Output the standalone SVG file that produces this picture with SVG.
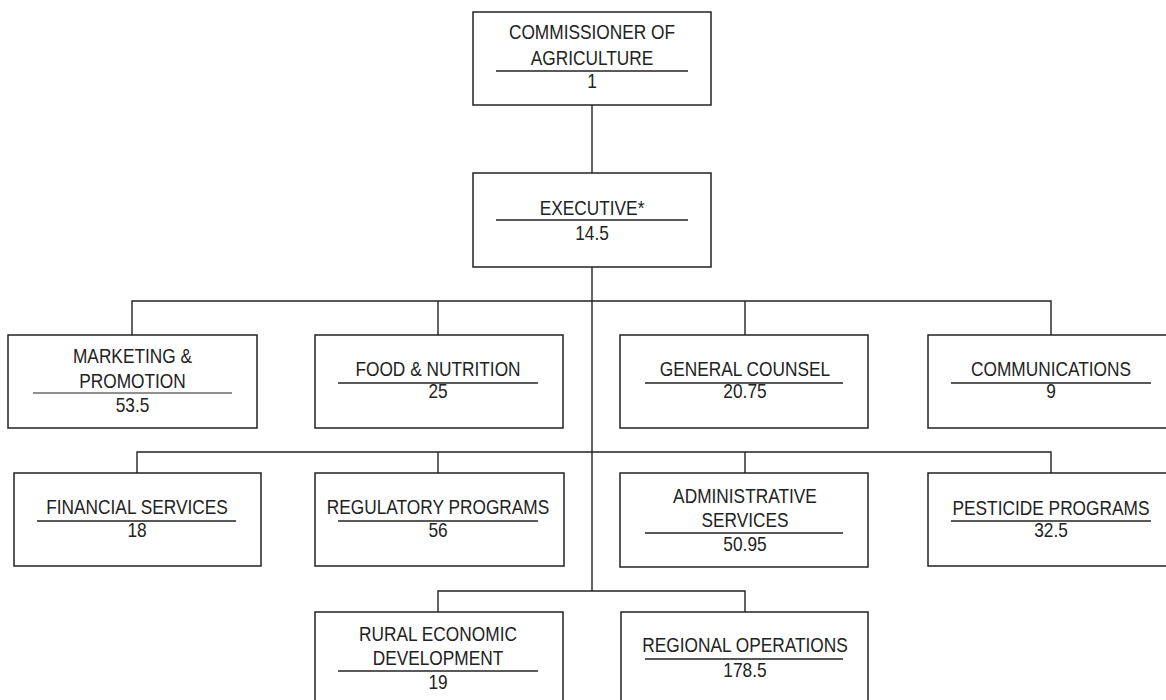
<svg xmlns="http://www.w3.org/2000/svg" width="1166" height="700" viewBox="0 0 1166 700">
<style>
.box{fill:#fff;stroke:#222;stroke-width:1.5}
.ul{stroke:#222;stroke-width:1.5}
.con{fill:none;stroke:#222;stroke-width:1.4}
text{font-family:"Liberation Sans",Arial,sans-serif;font-size:20px;fill:#222;text-anchor:middle}
</style>
<rect width="1166" height="700" fill="#fff"/>
<g id="connectors" class="con">
<path d="M592,105 V591"/>
<path d="M132,335 V301 H1051 V335"/>
<path d="M438,301 V335"/>
<path d="M745,301 V335"/>
<path d="M137,473 V452 H1051 V473"/>
<path d="M438,452 V473"/>
<path d="M745,452 V473"/>
<path d="M438,612 V591 H745 V612"/>
</g>
<g id="commissioner">
<rect class="box" x="473" y="12" width="238" height="93"/>
<text transform="translate(592 39) scale(0.865 1)">COMMISSIONER OF</text>
<text transform="translate(592 65) scale(0.865 1)">AGRICULTURE</text>
<line class="ul" x1="496" y1="71" x2="688" y2="71"/>
<text transform="translate(592 88) scale(0.865 1)">1</text>
</g>
<g id="executive">
<rect class="box" x="473" y="173" width="238" height="94"/>
<text transform="translate(592 215) scale(0.865 1)">EXECUTIVE*</text>
<line class="ul" x1="496" y1="220" x2="688" y2="220"/>
<text transform="translate(592 240) scale(0.865 1)">14.5</text>
</g>
<g id="marketing">
<rect class="box" x="8" y="335" width="249" height="93"/>
<text transform="translate(132.5 363) scale(0.865 1)">MARKETING &amp;</text>
<text transform="translate(132.5 388) scale(0.865 1)">PROMOTION</text>
<line class="ul" x1="33" y1="393" x2="232" y2="393" style="stroke-width:1"/>
<text transform="translate(132.5 412) scale(0.865 1)">53.5</text>
</g>
<g id="food">
<rect class="box" x="315" y="335" width="248" height="93"/>
<text transform="translate(438 376) scale(0.865 1)">FOOD &amp; NUTRITION</text>
<line class="ul" x1="338" y1="383" x2="538" y2="383"/>
<text transform="translate(438 398) scale(0.865 1)">25</text>
</g>
<g id="counsel">
<rect class="box" x="620" y="335" width="248" height="93"/>
<text transform="translate(745 376) scale(0.865 1)">GENERAL COUNSEL</text>
<line class="ul" x1="645" y1="383" x2="843" y2="383"/>
<text transform="translate(745 398) scale(0.865 1)">20.75</text>
</g>
<g id="communications">
<rect class="box" x="928" y="335" width="260" height="93"/>
<text transform="translate(1051 376) scale(0.865 1)">COMMUNICATIONS</text>
<line class="ul" x1="951" y1="383" x2="1151" y2="383"/>
<text transform="translate(1051 398) scale(0.865 1)">9</text>
</g>
<g id="financial">
<rect class="box" x="14" y="473" width="247" height="93"/>
<text transform="translate(137 514) scale(0.865 1)">FINANCIAL SERVICES</text>
<line class="ul" x1="37" y1="521" x2="236" y2="521"/>
<text transform="translate(137 537) scale(0.865 1)">18</text>
</g>
<g id="regulatory">
<rect class="box" x="315" y="473" width="249" height="93"/>
<text transform="translate(438 514) scale(0.865 1)">REGULATORY PROGRAMS</text>
<line class="ul" x1="338" y1="521" x2="538" y2="521"/>
<text transform="translate(438 537) scale(0.865 1)">56</text>
</g>
<g id="administrative">
<rect class="box" x="620" y="473" width="248" height="94"/>
<text transform="translate(745 503) scale(0.865 1)">ADMINISTRATIVE</text>
<text transform="translate(745 527) scale(0.865 1)">SERVICES</text>
<line class="ul" x1="645" y1="533" x2="843" y2="533"/>
<text transform="translate(745 551) scale(0.865 1)">50.95</text>
</g>
<g id="pesticide">
<rect class="box" x="928" y="473" width="260" height="93"/>
<text transform="translate(1051 515) scale(0.865 1)">PESTICIDE PROGRAMS</text>
<line class="ul" x1="951" y1="521" x2="1151" y2="521"/>
<text transform="translate(1051 537) scale(0.865 1)">32.5</text>
</g>
<g id="rural">
<rect class="box" x="315" y="612" width="248" height="100"/>
<text transform="translate(438 641) scale(0.865 1)">RURAL ECONOMIC</text>
<text transform="translate(438 665) scale(0.865 1)">DEVELOPMENT</text>
<line class="ul" x1="338" y1="671" x2="538" y2="671"/>
<text transform="translate(438 689) scale(0.865 1)">19</text>
</g>
<g id="regional">
<rect class="box" x="621" y="612" width="247" height="100"/>
<text transform="translate(745 652) scale(0.865 1)">REGIONAL OPERATIONS</text>
<line class="ul" x1="645" y1="659" x2="843" y2="659"/>
<text transform="translate(745 677) scale(0.865 1)">178.5</text>
</g>
</svg>
